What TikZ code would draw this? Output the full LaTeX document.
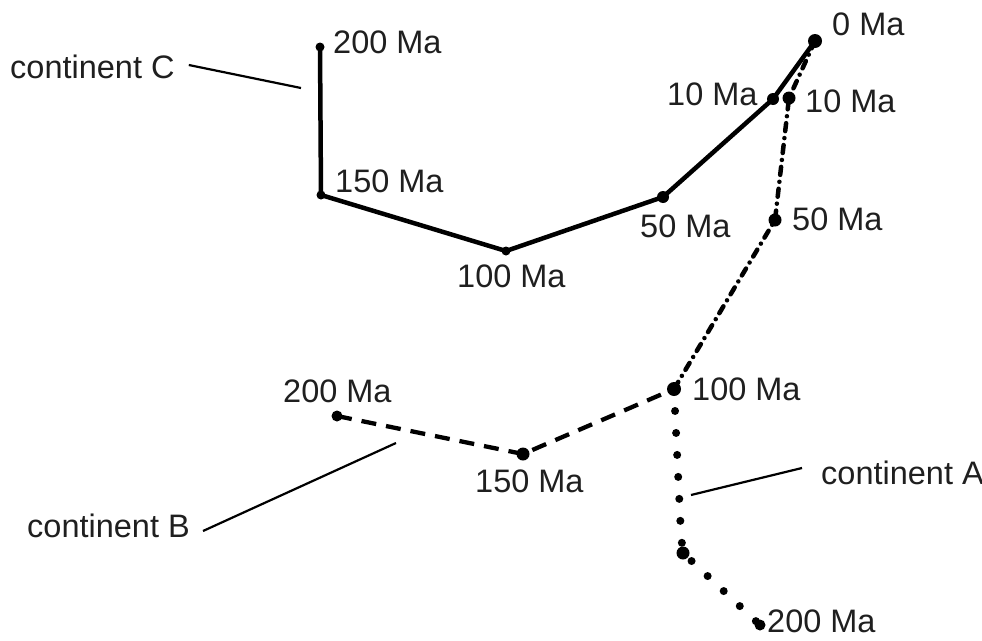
\documentclass[tikz,border=0pt]{standalone}
\usepackage{fontspec}
\setmainfont{Liberation Sans}
\begin{document}
\begin{tikzpicture}[x=1pt,y=-1pt,
  lbl/.style={font=\fontsize{32.5}{38}\selectfont, text=black!88, inner sep=0pt},
  solidpath/.style={line width=4.5pt, line join=round},
  dashdotpath/.style={line width=4.5pt, line cap=round, dash pattern=on 8pt off 7pt on 0pt off 7pt},
  dotpath/.style={line width=8pt, line cap=round, dash pattern=on 0pt off 22pt},
  dashpath/.style={line width=4.3pt, dash pattern=on 15pt off 10pt},
  leader/.style={line width=2.2pt},
  pt/.style={circle, fill=black, inner sep=0pt, minimum size=#1},
  pt/.default=9pt]
\useasboundingbox (0,0) rectangle (982,640);

% continent C points
\node[pt] (c200) at (320,47) {};
\node[pt] (c150) at (321,195) {};
\node[pt] (c100) at (506,251) {};
\node[pt=12pt] (c50) at (663,197) {};
\node[pt=12pt] (c10) at (773,99) {};
\node[pt=14pt] (c0) at (815,41) {};

% continent A points
\node[pt=13pt] (a10) at (789,98) {};
\node[pt=13pt] (a50) at (775,220) {};
\node[pt=14pt] (a100) at (674,389) {};
\coordinate (a130) at (681,535);
\node[pt=13pt] (abig) at (683,553) {};
\node[pt=11pt] (a200) at (760,625) {};

% continent B points
\node[pt=11pt] (b200) at (337,416) {};
\node[pt=13pt] (b150) at (523,454) {};

% continent C path
\draw[solidpath] (c200.center) -- (c150.center) -- (c100.center) -- (c50.center) -- (c10.center) -- (c0.center);

% continent A path
\draw[dashdotpath] (c0.center) -- (a10.center) -- (a50.center) -- (a100.center);
\draw[dotpath] (a100.center) -- (a130) -- (abig.center) -- (a200.center);

% continent B path
\draw[dashpath] (b200.center) -- (b150.center) -- (a100.center);

% labels
\node[lbl, anchor=west] (l0) at (832,24) {0 Ma};
\node[lbl, anchor=west] (lc10) at (667,94) {10 Ma};
\node[lbl, anchor=west] (la10) at (805,101) {10 Ma};
\node[lbl, anchor=west] (lc50) at (640,226) {50 Ma};
\node[lbl, anchor=west] (la50) at (792,219) {50 Ma};
\node[lbl, anchor=west] (lc200) at (333,42) {200 Ma};
\node[lbl, anchor=west] (lc150) at (335,181) {150 Ma};
\node[lbl, anchor=west] (lc100) at (457,276) {100 Ma};
\node[lbl, anchor=west] (la100) at (692,389) {100 Ma};
\node[lbl, anchor=west] (lb200) at (283,391) {200 Ma};
\node[lbl, anchor=west] (lb150) at (475,481) {150 Ma};
\node[lbl, anchor=west] (la200) at (767,621) {200 Ma};

\node[lbl, anchor=west] (contC) at (10,67) {continent C};
\node[lbl, anchor=west] (contA) at (821,473) {continent A};
\node[lbl, anchor=west] (contB) at (27,526) {continent B};

% leader lines
\coordinate (tC) at (301,88);
\coordinate (tA) at (691,495);
\coordinate (tB) at (396,443);
\draw[leader] ([xshift=14pt,yshift=2pt]contC.east) -- (tC);
\draw[leader] ([xshift=-19pt,yshift=5pt]contA.west) -- (tA);
\draw[leader] ([xshift=13pt,yshift=-5pt]contB.east) -- (tB);
\end{tikzpicture}
\end{document}
